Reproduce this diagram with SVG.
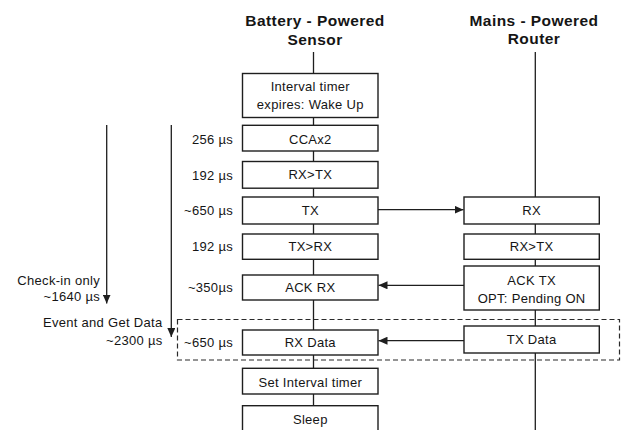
<svg xmlns="http://www.w3.org/2000/svg" width="621" height="430" viewBox="0 0 621 430">
<style>
  text { font-family: "Liberation Sans", Arial, sans-serif; fill: #151515; }
  .h { font-size: 15.5px; font-weight: bold; text-anchor: middle; letter-spacing: 0.45px; }
  .t { font-size: 13px; text-anchor: middle; letter-spacing: 0.3px; }
  .l { font-size: 13px; text-anchor: end; letter-spacing: 0.3px; }
  .box { fill: #fff; stroke: #1e1e1e; stroke-width: 1.4; }
  .life { stroke: #1e1e1e; stroke-width: 1.3; fill: none; }
  .arr { stroke: #1e1e1e; stroke-width: 1.3; fill: none; marker-end: url(#ah); }
  .dash { fill: none; stroke: #2a2a2a; stroke-width: 1.2; stroke-dasharray: 5 3; }
</style>
<defs>
  <marker id="ah" markerUnits="userSpaceOnUse" markerWidth="9" markerHeight="8" refX="9" refY="4" orient="auto">
    <path d="M0,0 L9,4 L0,8 Z" fill="#1e1e1e"/>
  </marker>
</defs>
<rect width="621" height="430" fill="#fff"/>

<g id="headers">
  <text class="h" x="315" y="26">Battery - Powered</text>
  <text class="h" x="315" y="45">Sensor</text>
  <text class="h" x="534" y="25.5">Mains - Powered</text>
  <text class="h" x="534" y="44">Router</text>
</g>

<g id="lifelines">
  <line class="life" x1="313.5" y1="52" x2="313.5" y2="430"/>
  <line class="life" x1="535.3" y1="52" x2="535.3" y2="430"/>
</g>

<g id="group-box">
  <rect class="dash" x="177.5" y="319.5" width="442" height="40.5"/>
</g>

<g id="n-wake"><rect class="box" x="242.5" y="73.5" width="135.5" height="44"/>
  <text class="t" x="310.3" y="91">Interval timer</text>
  <text class="t" x="310.3" y="109">expires: Wake Up</text></g>
<g id="n-cca"><rect class="box" x="242.5" y="125.3" width="135.5" height="25.7"/>
  <text class="t" x="310.3" y="143.5">CCAx2</text></g>
<g id="n-rxtx-s"><rect class="box" x="242.5" y="161.5" width="135.5" height="26.7"/>
  <text class="t" x="310.3" y="179.3">RX&gt;TX</text></g>
<g id="n-tx"><rect class="box" x="242.5" y="197" width="135.5" height="27"/>
  <text class="t" x="310.3" y="215">TX</text></g>
<g id="n-txrx"><rect class="box" x="242.5" y="234" width="135.5" height="25.3"/>
  <text class="t" x="310.3" y="251">TX&gt;RX</text></g>
<g id="n-ackrx"><rect class="box" x="242.5" y="275" width="135.5" height="25"/>
  <text class="t" x="310.3" y="292">ACK RX</text></g>
<g id="n-rxdata"><rect class="box" x="242.5" y="330" width="135.5" height="25"/>
  <text class="t" x="310.3" y="347">RX Data</text></g>
<g id="n-setint"><rect class="box" x="242.5" y="368.3" width="135.5" height="25.7"/>
  <text class="t" x="310.3" y="386.5">Set Interval timer</text></g>
<g id="n-sleep"><rect class="box" x="242.5" y="405.7" width="135.5" height="30"/>
  <text class="t" x="310.3" y="423.5">Sleep</text></g>

<g id="n-rx"><rect class="box" x="464" y="197" width="135.3" height="27"/>
  <text class="t" x="531.6" y="215">RX</text></g>
<g id="n-rxtx-r"><rect class="box" x="464" y="234" width="135.3" height="25.3"/>
  <text class="t" x="531.6" y="251">RX&gt;TX</text></g>
<g id="n-acktx"><rect class="box" x="464" y="266" width="135.3" height="44"/>
  <text class="t" x="531.6" y="285">ACK TX</text>
  <text class="t" x="531.6" y="302.5">OPT: Pending ON</text></g>
<g id="n-txdata"><rect class="box" x="464" y="326" width="135.3" height="27"/>
  <text class="t" x="531.6" y="344">TX Data</text></g>

<g id="labels">
  <text class="l" x="233" y="143.5">256 µs</text>
  <text class="l" x="233" y="179.5">192 µs</text>
  <text class="l" x="233" y="215">~650 µs</text>
  <text class="l" x="233" y="251">192 µs</text>
  <text class="l" x="233" y="292">~350µs</text>
  <text class="l" x="233" y="346.5">~650 µs</text>
  <text class="l" x="100" y="285">Check-in only</text>
  <text class="l" x="100" y="301">~1640 µs</text>
  <text class="l" x="162.5" y="327">Event and Get Data</text>
  <text class="l" x="162.5" y="345">~2300 µs</text>
</g>

<g id="connectors">
  <line class="arr" x1="378" y1="209.7" x2="463.5" y2="209.7"/>
  <line class="arr" x1="464" y1="285.3" x2="378.5" y2="285.3"/>
  <line class="arr" x1="464" y1="340.7" x2="378.5" y2="340.7"/>
  <line class="arr" x1="106.7" y1="125" x2="106.7" y2="303.5"/>
  <line class="arr" x1="171.3" y1="125" x2="171.3" y2="337"/>
</g>
</svg>
